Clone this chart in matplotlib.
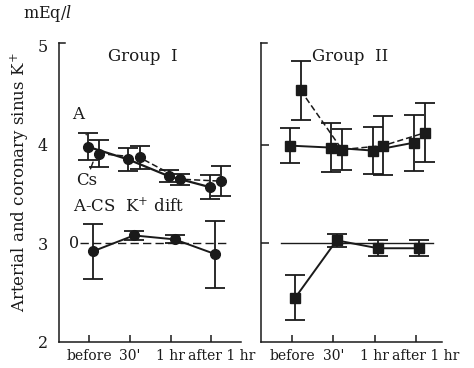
import numpy as np
import matplotlib
matplotlib.use("Agg")
import matplotlib.pyplot as plt
from matplotlib.transforms import ScaledTranslation

# K+ (mEq/l): arterial (A), coronary sinus (Cs) and A-Cs difference
time_labels = ["before", "30'", "1 hr", "after 1 hr"]

g1_a = [3.98, 3.85, 3.68, 3.57]
g1_a_err = [0.14, 0.12, 0.06, 0.12]
g1_cs = [3.91, 3.87, 3.65, 3.63]
g1_cs_err = [0.14, 0.12, 0.055, 0.15]
g1_diff = [-0.08, 0.08, 0.04, -0.11]
g1_diff_err = [0.28, 0.045, 0.04, 0.34]

g2_a = [3.99, 3.97, 3.94, 4.02]
g2_a_err = [0.175, 0.25, 0.235, 0.285]
g2_cs = [4.55, 3.95, 3.99, 4.12]
g2_cs_err = [0.30, 0.205, 0.30, 0.30]
g2_diff = [-0.55, 0.03, -0.05, -0.05]
g2_diff_err = [0.23, 0.065, 0.08, 0.08]

DIFF_ZERO = 3.0  # the difference curves are drawn about the "0" line at 3
INK = "#1a1a1a"

plt.rcParams.update({
    "font.family": "DejaVu Serif", "mathtext.fontset": "dejavuserif",
    "axes.linewidth": 1.1, "axes.edgecolor": INK, "text.color": INK,
    "xtick.color": INK, "ytick.color": INK,
})

fig = plt.figure(figsize=(4.74, 3.68), dpi=100)
ax1 = fig.add_axes([59 / 474, 26 / 368, 182 / 474, 299 / 368])
ax2 = fig.add_axes([261 / 474, 26 / 368, 181 / 474, 299 / 368])

x = np.arange(len(time_labels))


def draw_series(ax, xs, ys, errs, marker, ms, ls, lw):
    ax.errorbar(xs, ys, yerr=errs, fmt=marker, ms=ms, color=INK, mfc=INK, mec=INK,
                ls=ls, lw=lw, elinewidth=1.3, capsize=7, capthick=1.3, zorder=3,
                clip_on=False)


def style_panel(ax, xlim, label_y):
    ax.set_xlim(*xlim)
    ax.set_ylim(2, 5.03)
    for s in ("top", "right"):
        ax.spines[s].set_visible(False)
    ax.set_xticks(x)
    ax.set_xticklabels(time_labels, fontsize=10)
    ax.tick_params(axis="x", direction="in", length=5, width=1.1, pad=5)
    # the last label sits a little right of its tick
    last = ax.get_xticklabels()[-1]
    last.set_transform(last.get_transform() + ScaledTranslation(10 / 100, 0, fig.dpi_scale_trans))
    # small cap at the top of the y axis
    ax.plot([0, 0.035], [1, 1], transform=ax.transAxes, color=INK, lw=1.1, clip_on=False)
    if label_y:
        ax.set_yticks([2, 3, 4, 5])
        ax.set_yticklabels(["2", "3", "4", "5"], fontsize=11.5)
        ax.tick_params(axis="y", length=0, pad=8)
        ax.set_yticks([3, 4], minor=True)
        ax.tick_params(axis="y", which="minor", direction="out", length=5, width=1.1)
    else:
        ax.set_yticks([3, 4])
        ax.set_yticklabels([])
        ax.tick_params(axis="y", direction="in", length=6, width=1.1)


# Group I
style_panel(ax1, (-0.74, 3.73), True)
ax1.plot([-0.22, 3.46], [DIFF_ZERO, DIFF_ZERO], color=INK, lw=1.0, ls=(0, (6, 3)), zorder=1)
draw_series(ax1, x - 0.04, g1_a, g1_a_err, "o", 7, "-", 1.6)
draw_series(ax1, x + 0.24, g1_cs, g1_cs_err, "o", 7, (0, (4, 2)), 1.1)
draw_series(ax1, x + 0.1, DIFF_ZERO + np.array(g1_diff), g1_diff_err, "o", 7, "-", 1.4)
ax1.text(0.46, 0.955, "Group  I", transform=ax1.transAxes, ha="center", va="center",
         fontsize=12)
ax1.annotate("A", xy=(-0.07, 4.10), xytext=(-0.27, 4.31), fontsize=12,
             ha="center", va="center",
             arrowprops=dict(arrowstyle="-", color=INK, lw=1.0, shrinkA=7, shrinkB=2))
ax1.annotate("Cs", xy=(0.12, 3.85), xytext=(-0.07, 3.64), fontsize=12,
             ha="center", va="center",
             arrowprops=dict(arrowstyle="-", color=INK, lw=1.0, shrinkA=8, shrinkB=2))
ax1.text(-0.39, 3.37, "A-CS  K$^{+}$ dift", fontsize=12, ha="left", va="center")
ax1.text(-0.25, DIFF_ZERO, "0", fontsize=11.5, ha="right", va="center")

# Group II
style_panel(ax2, (-0.75, 3.63), False)
ax2.plot([-0.27, 3.41], [DIFF_ZERO, DIFF_ZERO], color=INK, lw=1.0, zorder=1)
draw_series(ax2, x - 0.05, g2_a, g2_a_err, "s", 6.5, "-", 1.4)
draw_series(ax2, x + 0.21, g2_cs, g2_cs_err, "s", 6.5, (0, (4, 2)), 1.1)
draw_series(ax2, x + 0.08, DIFF_ZERO + np.array(g2_diff), g2_diff_err, "s", 6.5, "-", 1.4)
ax2.text(0.49, 0.955, "Group  II", transform=ax2.transAxes, ha="center", va="center",
         fontsize=12)

fig.text(20 / 474, 1 - 182 / 368, "Arterial and coronary sinus K$^{+}$", rotation=90,
         ha="center", va="center", fontsize=12)
fig.text(47 / 474, 1 - 14 / 368, "mEq/$l$", ha="center", va="center", fontsize=11.5)

fig.savefig("out.png", dpi=100)
